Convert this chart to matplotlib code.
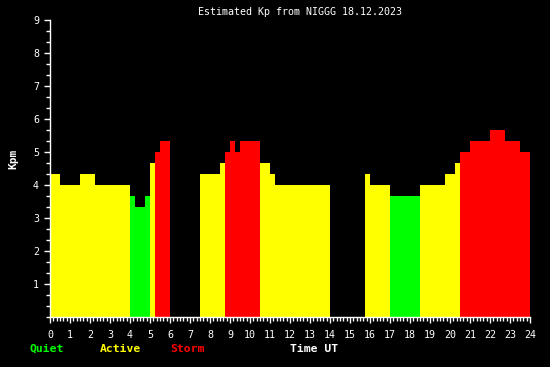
import numpy as np
import matplotlib
matplotlib.use("Agg")
import matplotlib.pyplot as plt
from matplotlib.ticker import MultipleLocator

# estimated Kp segments (hours UT)
t_start = [0.0, 0.5, 1.5, 2.25, 4.0, 4.25, 4.75, 5.0, 5.25, 5.5,
           7.5, 8.5, 8.75, 9.0, 9.25, 9.5, 10.5, 11.0, 11.25,
           15.75, 16.0, 17.0, 18.5, 19.75, 20.25, 20.5, 21.0, 22.0, 22.75, 23.5]
t_end = [0.5, 1.5, 2.25, 4.0, 4.25, 4.75, 5.0, 5.25, 5.5, 6.0,
         8.5, 8.75, 9.0, 9.25, 9.5, 10.5, 11.0, 11.25, 14.0,
         16.0, 17.0, 18.5, 19.75, 20.25, 20.5, 21.0, 22.0, 22.75, 23.5, 24.0]
kp = [4.33, 4.0, 4.33, 4.0, 3.67, 3.33, 3.67, 4.67, 5.0, 5.33,
      4.33, 4.67, 5.0, 5.33, 5.0, 5.33, 4.67, 4.33, 4.0,
      4.33, 4.0, 3.67, 4.0, 4.33, 4.67, 5.0, 5.33, 5.67, 5.33, 5.0]

title = "Estimated Kp from NIGGG 18.12.2023"

GREEN = "#00ff00"
YELLOW = "#ffff00"
RED = "#ff0000"


def level_color(v):
    if v < 4:
        return GREEN
    if v < 5:
        return YELLOW
    return RED


mono = "DejaVu Sans Mono"
plt.rcParams["font.family"] = mono

fig = plt.figure(figsize=(5.5, 3.67), dpi=100, facecolor="black")
ax = fig.add_axes([50 / 550, 50 / 367, 480 / 550, 297 / 367], facecolor="black")

t_start = np.array(t_start)
t_end = np.array(t_end)
ax.bar(t_start, kp, width=t_end - t_start, align="edge",
       color=[level_color(v) for v in kp], linewidth=0)

ax.set_xlim(0, 24)
ax.set_ylim(0, 9)

for s in ["top", "right"]:
    ax.spines[s].set_visible(False)
for s in ["left", "bottom"]:
    ax.spines[s].set_color("white")
    ax.spines[s].set_linewidth(1)

ax.set_xticks(range(0, 25))
ax.xaxis.set_minor_locator(MultipleLocator(1 / 6))
ax.set_yticks(range(1, 10))
ax.yaxis.set_minor_locator(MultipleLocator(1 / 3))
ax.tick_params(colors="white", labelsize=7.2, which="major", length=4, width=1)
ax.tick_params(colors="white", which="minor", length=3, width=1)
ax.tick_params(axis="x", pad=5)
ax.tick_params(axis="y", pad=4)

fig.text(300 / 550, 1 - 12 / 367, title, color="white", fontsize=7.2,
         ha="center", va="center")
fig.text(13 / 550, 1 - 159 / 367, "Kpm", color="white", fontsize=8,
         fontweight="bold", rotation=90, ha="center", va="center")

legend_items = [("Quiet", GREEN, 30), ("Active", YELLOW, 100),
                ("Storm", RED, 170), ("Time UT", "white", 290)]
for txt, col, x in legend_items:
    fig.text(x / 550, 1 - 349 / 367, txt, color=col, fontsize=8.2,
             fontweight="bold", ha="left", va="center")

fig.savefig("out.png", dpi=100, facecolor="black")
